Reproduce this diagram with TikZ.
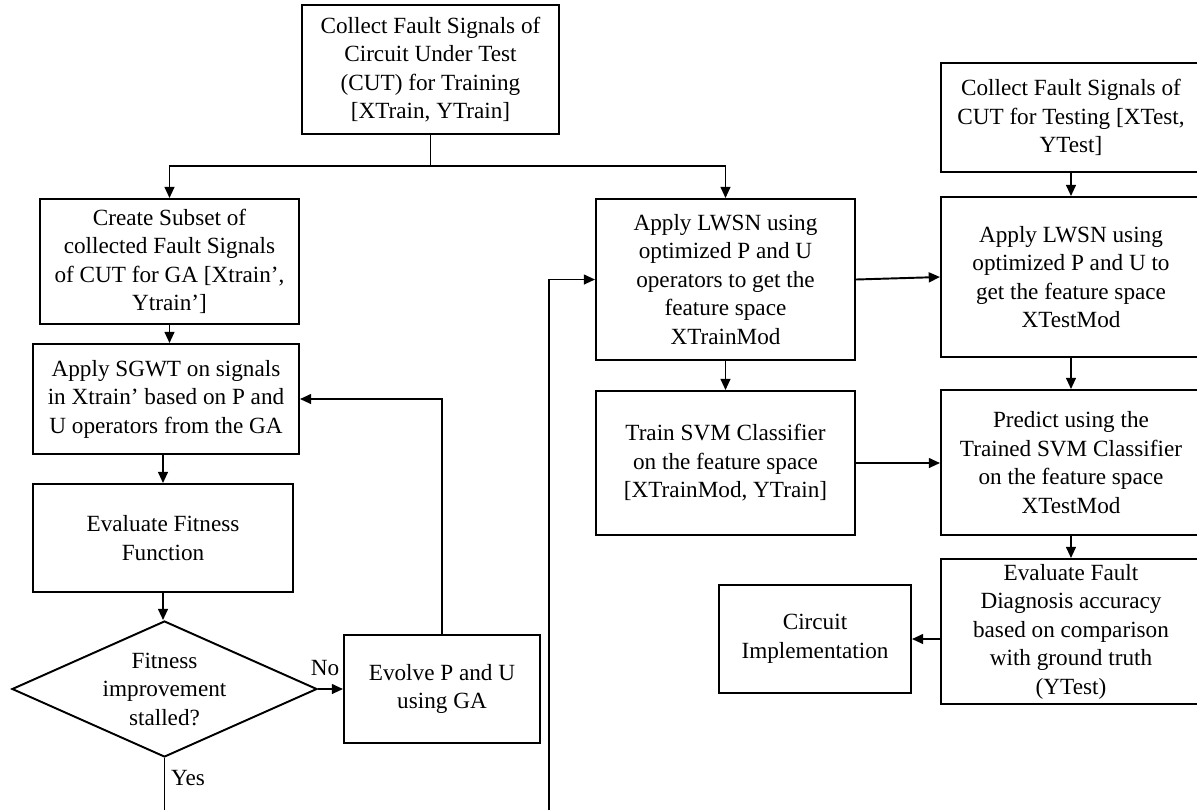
\documentclass[tikz,border=0pt]{standalone}
\usepackage{fontspec}
\setmainfont{Liberation Serif}
\usepackage{tikz}
\usetikzlibrary{arrows.meta,shapes.geometric}

\begin{document}
\begin{tikzpicture}[>={Triangle[length=3.2pt,width=2.8pt]},
  line width=0.55pt,
  box/.style={draw, align=center, inner sep=0pt, font=\fontsize{6.6}{8.1}\selectfont},
  decide/.style={draw, diamond, align=center, inner sep=0pt, shape aspect=2.24, font=\fontsize{6.6}{8.1}\selectfont},
  lbl/.style={inner sep=1.5pt, font=\fontsize{6.6}{8.1}\selectfont}]

% Frame: 1 cm = 100 px of the page
\useasboundingbox (0,0) rectangle (11.97,-8.10);
\clip (0,0) rectangle (11.97,-8.10);

% GA branch (left column)
\node[box, minimum width=2.57cm, minimum height=1.29cm] (trainc) at (4.305,-0.695)
  {Collect Fault Signals of\\Circuit Under Test\\(CUT) for Training\\{[}XTrain, YTrain]};
\node[box, minimum width=2.59cm, minimum height=1.25cm] (subset) at (1.695,-2.615)
  {Create Subset of\\collected Fault Signals\\of CUT for GA [Xtrain',\\Ytrain']};
\node[box, minimum width=2.66cm, minimum height=1.10cm] (sgwt) at (1.66,-3.99)
  {Apply SGWT on signals\\in Xtrain' based on P and\\U operators from the GA};
\node[box, minimum width=2.60cm, minimum height=1.08cm] (fitness) at (1.63,-5.38)
  {Evaluate Fitness\\Function};
\node[decide, minimum width=3.05cm, minimum height=1.36cm] (stall) at (1.645,-6.89)
  {Fitness\\improvement\\stalled?};
\node[box, minimum width=1.96cm, minimum height=1.08cm] (evolve) at (4.42,-6.89)
  {Evolve P and U\\using GA};

% Training with LWSN (middle column)
\node[box, minimum width=2.59cm, minimum height=1.61cm] (lwsntr) at (7.255,-2.795)
  {Apply LWSN using\\optimized P and U\\operators to get the\\feature space\\XTrainMod};
\node[box, minimum width=2.59cm, minimum height=1.44cm] (svmtr) at (7.255,-4.63)
  {Train SVM Classifier\\on the feature space\\{[}XTrainMod, YTrain]};

% Testing (right column)
\node[box, minimum width=2.60cm, minimum height=1.09cm] (testc) at (10.71,-1.175)
  {Collect Fault Signals of\\CUT for Testing [XTest,\\YTest]};
\node[box, minimum width=2.60cm, minimum height=1.60cm] (lwsnte) at (10.71,-2.77)
  {Apply LWSN using\\optimized P and U to\\get the feature space\\XTestMod};
\node[box, minimum width=2.60cm, minimum height=1.45cm] (predict) at (10.71,-4.625)
  {Predict using the\\Trained SVM Classifier\\on the feature space\\XTestMod};
\node[box, minimum width=2.60cm, minimum height=1.45cm] (evalf) at (10.71,-6.315)
  {Evaluate Fault\\Diagnosis accuracy\\based on comparison\\with ground truth\\(YTest)};
\node[box, minimum width=1.92cm, minimum height=1.08cm] (circuit) at (8.15,-6.39)
  {Circuit\\Implementation};

% Split below the training data
\coordinate (split) at (4.305,-1.66);
\draw (trainc) -- (split);
\draw[->] (split) -| (subset);
\draw[->] (split) -| (lwsntr);

% GA loop
\draw[->] (subset) -- (subset |- sgwt.north);
\draw[->] (fitness.north |- sgwt.south) -- (fitness.north);
\draw[->] (fitness.south) -- (fitness.south |- stall.north);
\draw[->] (stall.east) -- (evolve.west);
\node[lbl, anchor=south] (nolbl) at ([xshift=0.07cm,yshift=0.07cm]stall.east) {No};
\draw[->] (evolve.north) |- (sgwt.east);

% Leaving the loop (runs off the bottom edge)
\coordinate (yesend) at (1.645,-8.10);
\coordinate (feedin) at (5.49,-8.10);
\draw (stall.south) -- (yesend);
\node[lbl, anchor=west] (yeslbl) at (1.65,-7.78) {Yes};
\draw[->] (feedin) |- (lwsntr.west);

% Feature spaces and classifier
\draw[->] (lwsntr.east) -- (lwsnte.west);
\draw[->] (lwsntr) -- (svmtr);
\draw[->] (testc) -- (lwsnte);
\draw[->] (lwsnte) -- (predict);
\draw[->] (svmtr.east) -- (predict.west |- svmtr.east);
\draw[->] (predict) -- (evalf);
\draw[->] (circuit.east -| evalf.west) -- (circuit.east);

\end{tikzpicture}
\end{document}
